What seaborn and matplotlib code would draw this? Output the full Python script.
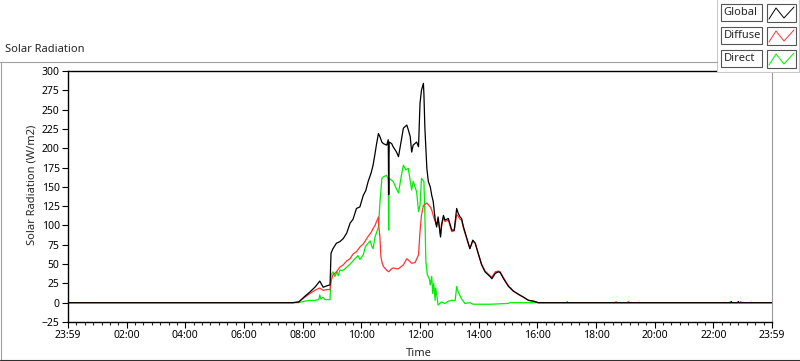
import matplotlib
matplotlib.use('Agg')
import matplotlib.pyplot as plt
from matplotlib.lines import Line2D
from matplotlib.patches import Rectangle
from matplotlib.ticker import MultipleLocator
import pandas as pd
import seaborn as sns

# Values (time of day, W/m2)
global_times = ['00:00', '07:40', '07:52', '08:04', '08:15', '08:25', '08:35', '08:42', '08:50', '08:56',
                '08:58', '09:02', '09:09', '09:16', '09:23', '09:30', '09:37', '09:43', '09:50', '09:57',
                '10:04', '10:09', '10:14', '10:20', '10:24', '10:28', '10:31', '10:35', '10:38', '10:42',
                '10:45', '10:52', '10:55', '10:56', '10:57', '11:02', '11:05', '11:12', '11:16', '11:19',
                '11:22', '11:26', '11:33', '11:36', '11:40', '11:43', '11:46', '11:53', '11:57', '12:00',
                '12:03', '12:07', '12:08', '12:10', '12:14', '12:17', '12:21', '12:24', '12:27', '12:31',
                '12:34', '12:37', '12:42', '12:44', '12:48', '12:51', '12:58', '13:05', '13:10', '13:15',
                '13:18', '13:22', '13:25', '13:29', '13:36', '13:42', '13:48', '13:53', '13:59', '14:06',
                '14:13', '14:23', '14:27', '14:34', '14:40', '14:44', '14:51', '15:01', '15:11', '15:21',
                '15:32', '15:42', '15:52', '16:02', '22:36', '22:37', '22:38', '22:50', '22:51', '22:52',
                '24:00']
global_values = [0, 0, 1, 8, 14, 20, 28, 20, 22, 23,
                 64, 70, 77, 79, 83, 90, 103, 108, 122, 124,
                 139, 145, 157, 168, 178, 193, 205, 219, 215, 208,
                 206, 204, 211, 140, 208, 206, 202, 195, 189, 200,
                 211, 226, 230, 224, 215, 195, 204, 208, 202, 258,
                 275, 284, 270, 226, 174, 157, 150, 139, 131, 108,
                 98, 111, 85, 101, 113, 107, 109, 94, 94, 122,
                 116, 111, 109, 98, 83, 70, 81, 77, 64, 49,
                 40, 34, 31, 38, 40, 39, 31, 21, 15, 11,
                 7, 3, 2, 0, 0, 1.5, 0, 0, 1.5, 0,
                 0]

diffuse_times = ['00:00', '07:40', '07:52', '08:04', '08:15', '08:25', '08:35', '08:42', '08:50', '08:56',
                 '08:58', '09:02', '09:09', '09:16', '09:23', '09:30', '09:37', '09:43', '09:50', '09:57',
                 '10:04', '10:09', '10:14', '10:20', '10:24', '10:28', '10:31', '10:35', '10:36', '10:38',
                 '10:40', '10:42', '10:45', '10:52', '10:56', '11:02', '11:05', '11:12', '11:16', '11:22',
                 '11:26', '11:33', '11:40', '11:43', '11:50', '11:57', '12:00', '12:03', '12:07', '12:14',
                 '12:21', '12:24', '12:27', '12:31', '12:34', '12:37', '12:42', '12:44', '12:48', '12:51',
                 '12:58', '13:05', '13:10', '13:15', '13:18', '13:22', '13:25', '13:29', '13:36', '13:42',
                 '13:48', '13:53', '13:59', '14:06', '14:13', '14:23', '14:27', '14:34', '14:40', '14:44',
                 '14:51', '15:01', '15:11', '15:21', '15:32', '15:42', '15:52', '16:02', '24:00']
diffuse_values = [0, 0, 1, 7, 12, 16, 19, 16, 17, 17,
                  28, 36, 40, 46, 49, 54, 57, 63, 66, 72,
                  76, 81, 86, 91, 96, 100, 105, 111, 98, 85,
                  60, 53, 47, 42, 40, 44, 45, 44, 44, 47,
                  49, 57, 53, 51, 52, 62, 92, 113, 126, 129,
                  124, 120, 113, 105, 100, 109, 87, 98, 111, 105,
                  107, 92, 93, 114, 112, 108, 107, 96, 82, 70,
                  80, 77, 64, 50, 41, 35, 33, 40, 41, 40,
                  32, 22, 15, 11, 7, 3, 2, 0, 0]

direct_times = ['00:00', '07:40', '07:52', '08:04', '08:15', '08:25', '08:33', '08:35', '08:37', '08:42',
                '08:45', '08:56', '08:58', '09:02', '09:06', '09:10', '09:13', '09:16', '09:23', '09:30',
                '09:37', '09:43', '09:47', '09:53', '09:57', '10:04', '10:08', '10:11', '10:18', '10:22',
                '10:24', '10:28', '10:35', '10:38', '10:42', '10:45', '10:52', '10:55', '10:56', '10:57',
                '11:05', '11:10', '11:16', '11:22', '11:26', '11:31', '11:36', '11:43', '11:46', '11:53',
                '11:57', '12:00', '12:03', '12:08', '12:10', '12:12', '12:15', '12:19', '12:21', '12:24',
                '12:26', '12:28', '12:31', '12:32', '12:35', '12:37', '12:44', '12:51', '12:58', '13:05',
                '13:12', '13:15', '13:18', '13:25', '13:32', '13:42', '13:49', '14:23', '15:00', '15:04',
                '17:00', '17:01', '17:02', '18:40', '18:41', '18:42', '19:05', '19:06', '19:07', '22:34',
                '22:35', '22:36', '22:55', '22:56', '22:57', '24:00']
direct_values = [0, 0, 0, 2, 3, 3, 4, 10, 5, 7,
                 4, 4, 36, 40, 34, 40, 35, 42, 42, 46,
                 50, 54, 57, 61, 56, 62, 72, 75, 80, 72,
                 70, 85, 98, 129, 161, 163, 165, 159, 94, 161,
                 157, 150, 142, 165, 178, 172, 174, 146, 157, 144,
                 118, 126, 161, 157, 113, 53, 36, 31, 23, 34,
                 12, 25, 3, 19, 7, -3, 1, -1, 2, 3,
                 3, 21, 14, 5, -1, 0, -2, -2, -1, 0,
                 0, 1.5, 0, 0, 1.5, 0, 0, 1.5, 0, 0,
                 1.5, 0, 0, 1.5, 0, 0]

series_names = ['Global', 'Diffuse', 'Direct']
series_colors = {'Global': 'black', 'Diffuse': '#ff3333', 'Direct': '#00ee00'}
x_tick_labels = ['23:59', '02:00', '04:00', '06:00', '08:00', '10:00', '12:00',
                 '14:00', '16:00', '18:00', '20:00', '22:00', '23:59']


def to_hours(times):
    return [int(t[:2]) + int(t[3:]) / 60 for t in times]


df = pd.concat([
    pd.DataFrame({'hours': to_hours(global_times), 'value': global_values, 'series': 'Global'}),
    pd.DataFrame({'hours': to_hours(diffuse_times), 'value': diffuse_values, 'series': 'Diffuse'}),
    pd.DataFrame({'hours': to_hours(direct_times), 'value': direct_values, 'series': 'Direct'}),
])

sns.set_style('white')
plt.rcParams['font.family'] = ['Noto Sans', 'DejaVu Sans']

W, H = 800, 361
fig = plt.figure(figsize=(8, 3.61), dpi=100)
fig.patch.set_facecolor('white')

ax = fig.add_axes([68 / W, 1 - 322 / H, (772 - 68) / W, (322 - 71) / H])

# green first, global on top (as in the original)
for name in ['Direct', 'Diffuse', 'Global']:
    sns.lineplot(data=df[df['series'] == name], x='hours', y='value', color=series_colors[name],
                 linewidth=0.9, estimator=None, sort=False, legend=False, ax=ax)

ax.set_xlim(0, 24)
ax.set_ylim(-25, 300)
ax.set_yticks(range(-25, 301, 25))
ax.set_xticks(range(0, 25, 2))
ax.set_xticklabels(x_tick_labels)
ax.xaxis.set_minor_locator(MultipleLocator(2 / 7))
ax.set_xlabel('')
ax.set_ylabel('')

ax.tick_params(axis='both', which='major', direction='out', length=4, width=0.8,
               labelsize=7.5, pad=2, colors='black', bottom=True, left=True)
ax.tick_params(axis='x', which='minor', direction='out', length=2.5, width=0.8, bottom=True)

for side in ['left', 'bottom', 'top']:
    ax.spines[side].set_color('black')
    ax.spines[side].set_linewidth(1.0)
ax.spines['right'].set_color('#999999')
ax.spines['right'].set_linewidth(0.8)

# labels
fig.text(5 / W, 1 - 50 / H, 'Solar Radiation', ha='left', va='center', fontsize=8)
fig.text(32 / W, 1 - 185 / H, 'Solar Radiation (W/m2)', rotation=90, ha='center', va='center', fontsize=8)
fig.text(419 / W, 1 - 353 / H, 'Time', ha='center', va='center', fontsize=8)

# outer frame of the graph window
fig.add_artist(Line2D([0, 717 / W], [1 - 61.5 / H] * 2, color='#a0a0a0', lw=0.8))
fig.add_artist(Line2D([0.6 / W] * 2, [1 - 61.5 / H, 1 - 359.5 / H], color='#a0a0a0', lw=0.8))
fig.add_artist(Line2D([0, 1], [1 - 359.5 / H] * 2, color='#303030', lw=0.8))

# legend drawn like the plot legend of the original
lax = fig.add_axes([717 / W, 1 - 73 / H, 83 / W, 73 / H])
lax.set_xlim(717, 800)
lax.set_ylim(73, 0)
lax.axis('off')
lax.add_patch(Rectangle((717.5, -1), 81.5, 73, facecolor='white', edgecolor='#c8c8c8', lw=0.8))
row_tops = [4, 27, 50]
for name, top in zip(series_names, row_tops):
    lax.add_patch(Rectangle((721.5, top), 41, 17, facecolor='white', edgecolor='#555555', lw=0.8))
    lax.text(723.5, top + 8.7, name, ha='left', va='center', fontsize=8)
    lax.add_patch(Rectangle((767, top), 29, 18, facecolor='white', edgecolor='#555555', lw=0.8))
    lax.plot([769, 776, 784, 794], [top + 15, top + 4, top + 14, top + 3],
             color=series_colors[name], lw=0.7)

fig.savefig('out.png', dpi=100, facecolor='white')
